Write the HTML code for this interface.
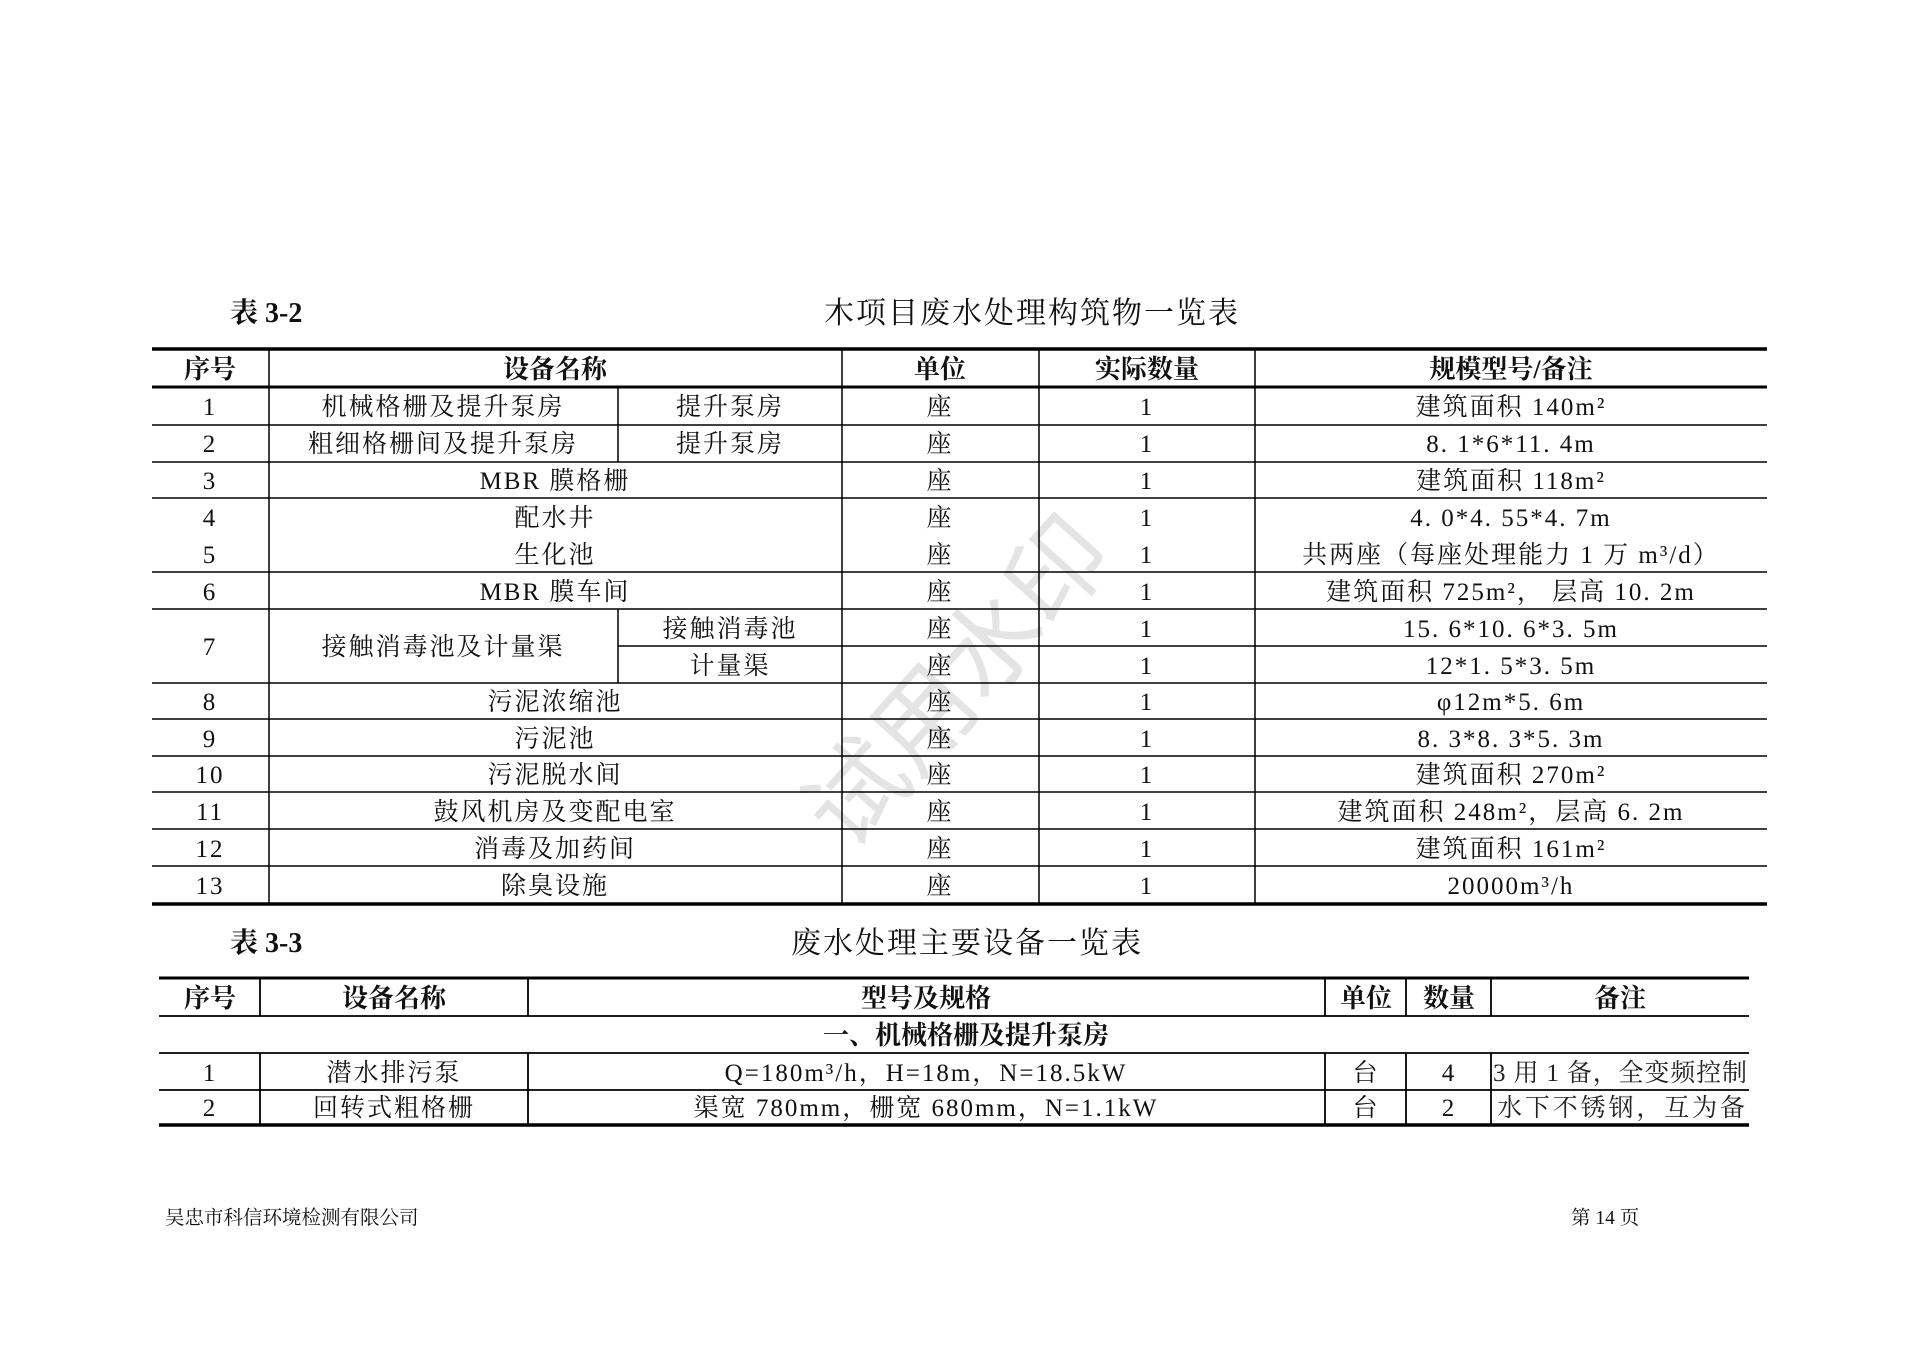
<!DOCTYPE html>
<html><head><meta charset="utf-8"><style>
html,body{margin:0;padding:0;background:#fff;}
body{width:1920px;height:1357px;position:relative;overflow:hidden;}
svg{position:absolute;left:0;top:0;}
text{font-family:"Liberation Serif","Noto Serif CJK SC",serif;fill:#111;}
.b{font-size:25px;fill:#222;letter-spacing:2px;}
.h{font-size:26px;font-weight:bold;}
.t{font-size:28px;font-weight:bold;}
.tt{font-size:30px;letter-spacing:2px;}
.f{font-size:19.5px;}
</style></head><body>
<svg width="1920" height="1357" viewBox="0 0 1920 1357">
<!-- watermark -->
<text x="961" y="715" text-anchor="middle" transform="rotate(-48 961 685)" style="font-size:100px;fill:#e4e4e4;font-family:'Noto Sans CJK SC',sans-serif;">试用水印</text>

<text class="t" x="230" y="322">表 3-2</text>
<text class="tt" x="1032" y="323" text-anchor="middle">木项目废水处理构筑物一览表</text>

<g stroke="#000" fill="none">
<line x1="152" y1="349" x2="1767" y2="349" stroke-width="3.5"/>
<line x1="152" y1="387" x2="1767" y2="387" stroke-width="3"/>
<line x1="152" y1="904" x2="1767" y2="904" stroke-width="3.5"/>
<g stroke-width="1.5">
<line x1="152" y1="425" x2="1767" y2="425"/>
<line x1="152" y1="462" x2="1767" y2="462"/>
<line x1="152" y1="498" x2="1767" y2="498"/>
<line x1="152" y1="572" x2="1767" y2="572"/>
<line x1="152" y1="609" x2="1767" y2="609"/>
<line x1="618" y1="646" x2="1767" y2="646"/>
<line x1="152" y1="683" x2="1767" y2="683"/>
<line x1="152" y1="719" x2="1767" y2="719"/>
<line x1="152" y1="756" x2="1767" y2="756"/>
<line x1="152" y1="792" x2="1767" y2="792"/>
<line x1="152" y1="829" x2="1767" y2="829"/>
<line x1="152" y1="866" x2="1767" y2="866"/>
<line x1="269" y1="349" x2="269" y2="904"/>
<line x1="842" y1="349" x2="842" y2="904"/>
<line x1="1039" y1="349" x2="1039" y2="904"/>
<line x1="1255" y1="349" x2="1255" y2="904"/>
<line x1="618" y1="387" x2="618" y2="462"/>
<line x1="618" y1="609" x2="618" y2="683"/>
</g>
</g>

<g text-anchor="middle">
<text class="h" x="210" y="378">序号</text>
<text class="h" x="555" y="378">设备名称</text>
<text class="h" x="940" y="378">单位</text>
<text class="h" x="1147" y="378">实际数量</text>
<text class="h" x="1511" y="378">规模型号/备注</text>
</g>
<g class="b" text-anchor="middle">
<text x="210" y="415">1</text><text x="443" y="415">机械格栅及提升泵房</text><text x="730" y="415">提升泵房</text><text x="940" y="415">座</text><text x="1147" y="415">1</text><text x="1511" y="415">建筑面积 140m²</text>
<text x="210" y="452">2</text><text x="443" y="452">粗细格栅间及提升泵房</text><text x="730" y="452">提升泵房</text><text x="940" y="452">座</text><text x="1147" y="452">1</text><text x="1511" y="452">8. 1*6*11. 4m</text>
<text x="210" y="489">3</text><text x="555" y="489">MBR 膜格栅</text><text x="940" y="489">座</text><text x="1147" y="489">1</text><text x="1511" y="489">建筑面积 118m²</text>
<text x="210" y="526">4</text><text x="555" y="526">配水井</text><text x="940" y="526">座</text><text x="1147" y="526">1</text><text x="1511" y="526">4. 0*4. 55*4. 7m</text>
<text x="210" y="563">5</text><text x="555" y="563">生化池</text><text x="940" y="563">座</text><text x="1147" y="563">1</text><text x="1511" y="563">共两座（每座处理能力 1 万 m³/d）</text>
<text x="210" y="600">6</text><text x="555" y="600">MBR 膜车间</text><text x="940" y="600">座</text><text x="1147" y="600">1</text><text x="1511" y="600">建筑面积 725m²， 层高 10. 2m</text>
<text x="210" y="655">7</text><text x="443" y="655">接触消毒池及计量渠</text>
<text x="730" y="637">接触消毒池</text><text x="940" y="637">座</text><text x="1147" y="637">1</text><text x="1511" y="637">15. 6*10. 6*3. 5m</text>
<text x="730" y="674">计量渠</text><text x="940" y="674">座</text><text x="1147" y="674">1</text><text x="1511" y="674">12*1. 5*3. 5m</text>
<text x="210" y="710">8</text><text x="555" y="710">污泥浓缩池</text><text x="940" y="710">座</text><text x="1147" y="710">1</text><text x="1511" y="710">φ12m*5. 6m</text>
<text x="210" y="747">9</text><text x="555" y="747">污泥池</text><text x="940" y="747">座</text><text x="1147" y="747">1</text><text x="1511" y="747">8. 3*8. 3*5. 3m</text>
<text x="210" y="783">10</text><text x="555" y="783">污泥脱水间</text><text x="940" y="783">座</text><text x="1147" y="783">1</text><text x="1511" y="783">建筑面积 270m²</text>
<text x="210" y="820">11</text><text x="555" y="820">鼓风机房及变配电室</text><text x="940" y="820">座</text><text x="1147" y="820">1</text><text x="1511" y="820">建筑面积 248m²，层高 6. 2m</text>
<text x="210" y="857">12</text><text x="555" y="857">消毒及加药间</text><text x="940" y="857">座</text><text x="1147" y="857">1</text><text x="1511" y="857">建筑面积 161m²</text>
<text x="210" y="894">13</text><text x="555" y="894">除臭设施</text><text x="940" y="894">座</text><text x="1147" y="894">1</text><text x="1511" y="894">20000m³/h</text>
</g>

<text class="t" x="230" y="952">表 3-3</text>
<text class="tt" x="967" y="953" text-anchor="middle">废水处理主要设备一览表</text>
<g stroke="#000" fill="none">
<line x1="159" y1="978" x2="1749" y2="978" stroke-width="3"/>
<line x1="159" y1="1125" x2="1749" y2="1125" stroke-width="3.5"/>
<g stroke-width="1.8">
<line x1="159" y1="1016" x2="1749" y2="1016"/>
<line x1="159" y1="1053" x2="1749" y2="1053"/>
<line x1="159" y1="1090" x2="1749" y2="1090"/>
<line x1="260" y1="978" x2="260" y2="1016"/><line x1="260" y1="1053" x2="260" y2="1125"/>
<line x1="528" y1="978" x2="528" y2="1016"/><line x1="528" y1="1053" x2="528" y2="1125"/>
<line x1="1325" y1="978" x2="1325" y2="1016"/><line x1="1325" y1="1053" x2="1325" y2="1125"/>
<line x1="1406" y1="978" x2="1406" y2="1016"/><line x1="1406" y1="1053" x2="1406" y2="1125"/>
<line x1="1491" y1="978" x2="1491" y2="1016"/><line x1="1491" y1="1053" x2="1491" y2="1125"/>
</g></g>
<g text-anchor="middle">
<text class="h" x="210" y="1007">序号</text>
<text class="h" x="394" y="1007">设备名称</text>
<text class="h" x="926" y="1007">型号及规格</text>
<text class="h" x="1366" y="1007">单位</text>
<text class="h" x="1449" y="1007">数量</text>
<text class="h" x="1620" y="1007">备注</text>
<text class="h" x="966" y="1044">一、机械格栅及提升泵房</text>
</g>
<g class="b" text-anchor="middle">
<text x="210" y="1081">1</text><text x="394" y="1081">潜水排污泵</text><text x="926" y="1081">Q=180m³/h，H=18m，N=18.5kW</text><text x="1366" y="1081">台</text><text x="1449" y="1081">4</text>
<text x="210" y="1116">2</text><text x="394" y="1116">回转式粗格栅</text><text x="926" y="1116">渠宽 780mm，栅宽 680mm，N=1.1kW</text><text x="1366" y="1116">台</text><text x="1449" y="1116">2</text>
</g>
<text class="b" x="1493" y="1081" textLength="254" style="letter-spacing:0">3 用 1 备，全变频控制</text>
<text class="b" x="1497" y="1116" textLength="248" style="letter-spacing:0">水下不锈钢，互为备</text>

<text class="f" x="165" y="1224">吴忠市科信环境检测有限公司</text>
<text class="f" x="1571" y="1224">第 14 页</text>
</svg>
</body></html>
